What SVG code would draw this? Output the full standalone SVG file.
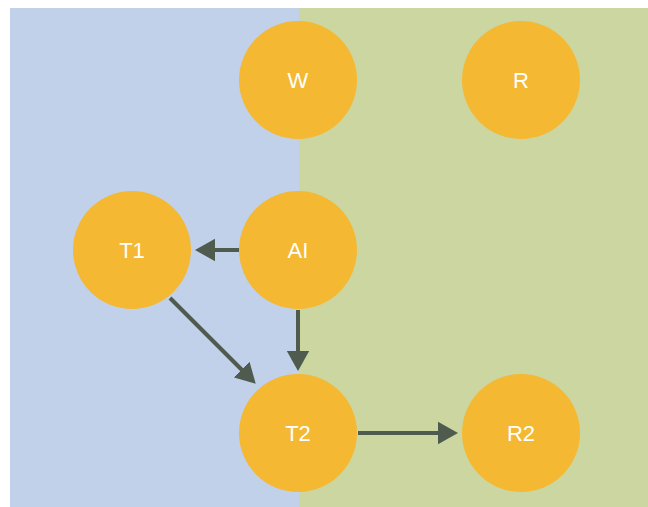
<svg xmlns="http://www.w3.org/2000/svg" width="648" height="507" viewBox="0 0 648 507">
<style>
.n{fill:#f4b833}
.t{fill:#ffffff;font-family:"Liberation Sans",Arial,sans-serif;font-size:22px;text-anchor:middle;dominant-baseline:central}
.e{stroke:#4f5b4f;stroke-width:4;fill:none;marker-end:url(#ah)}
</style>
<defs>
<marker id="ah" markerWidth="6" markerHeight="6" refX="0.5" refY="3" orient="auto" markerUnits="strokeWidth" viewBox="0 0 6 6">
<path d="M0,0.2 L5,3 L0,5.8 Z" fill="#4f5b4f"/>
</marker>
</defs>
<rect x="0" y="0" width="648" height="507" fill="#ffffff"/>
<rect x="10" y="8" width="289" height="499" fill="#c1d1ea"/>
<rect x="299" y="8" width="349" height="499" fill="#ccd6a0"/>
<g id="connectors">
<line class="e" x1="239" y1="250" x2="213" y2="250"/>
<line class="e" x1="298" y1="310" x2="298" y2="353"/>
<line class="e" x1="170" y1="298" x2="243" y2="371"/>
<line class="e" x1="358" y1="433" x2="440" y2="433"/>
</g>
<g id="W"><circle class="n" cx="298" cy="80" r="59"/><text class="t" x="298" y="80">W</text></g>
<g id="R"><circle class="n" cx="521" cy="80" r="59"/><text class="t" x="521" y="80">R</text></g>
<g id="T1"><circle class="n" cx="132" cy="250" r="59"/><text class="t" x="132" y="250">T1</text></g>
<g id="AI"><circle class="n" cx="298" cy="250" r="59"/><text class="t" x="298" y="250">AI</text></g>
<g id="T2"><circle class="n" cx="298" cy="433" r="59"/><text class="t" x="298" y="433">T2</text></g>
<g id="R2"><circle class="n" cx="521" cy="433" r="59"/><text class="t" x="521" y="433">R2</text></g>
</svg>
